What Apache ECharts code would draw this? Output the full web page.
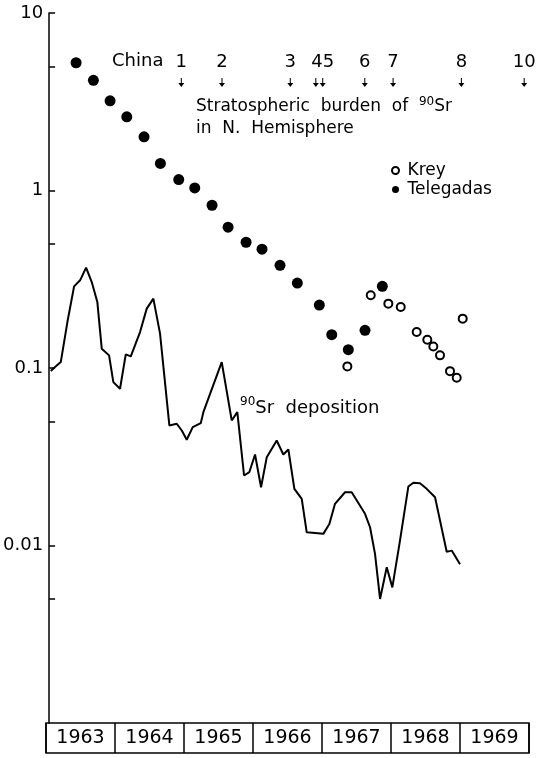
<!DOCTYPE html>
<html><head><meta charset="utf-8">
<script src="https://cdn.jsdelivr.net/npm/echarts@6/dist/echarts.min.js"></script>
<style>html,body{margin:0;padding:0;background:#fff}#c{width:536px;height:758px}</style>
</head><body><div id="c"></div>
<script>
// ---- data ----
const years = ['1963','1964','1965','1966','1967','1968','1969'];
const yTickValues = [10, 5, 1, 0.5, 0.1, 0.05, 0.01, 0.005];
const yLabelValues = [10, 1, 0.1, 0.01];

const depositionTime = [1963.068,1963.130,1963.213,1963.309,1963.406,1963.493,1963.580,1963.662,1963.743,1963.807,
  1963.913,1963.975,1964.072,1964.155,1964.228,1964.362,1964.459,1964.555,1964.652,1964.787,
  1964.894,1964.967,1965.039,1965.126,1965.242,1965.280,1965.546,1965.691,1965.772,1965.870,
  1965.946,1966.029,1966.116,1966.199,1966.343,1966.439,1966.512,1966.599,1966.706,1966.778,
  1967.019,1967.106,1967.188,1967.333,1967.430,1967.623,1967.696,1967.768,1967.841,1967.938,
  1968.019,1968.130,1968.251,1968.323,1968.420,1968.517,1968.638,1968.807,1968.880,1969.000];
const depositionValue = [0.0961,0.1012,0.108,0.1815,0.2884,0.3119,0.3679,0.3051,0.2352,0.1285,
  0.1178,0.0833,0.0764,0.1193,0.1162,0.1594,0.216,0.246,0.1561,0.04746,
  0.04851,0.04446,0.03941,0.04642,0.04889,0.0564,0.108,0.05064,0.0564,0.02479,
  0.02588,0.03257,0.0213,0.03145,0.03906,0.03257,0.03475,0.02085,0.01832,0.01187,
  0.01163,0.01323,0.01717,0.01995,0.01995,0.01508,0.01267,0.008966,0.004998,0.007534,
  0.005809,0.01066,0.02149,0.02255,0.02245,0.02085,0.01871,0.009226,0.009359,0.007834];

const telegadasTime = [1963.435,1963.686,1963.928,1964.170,1964.420,1964.657,1964.923,1965.155,1965.406,1965.638,
  1965.899,1966.130,1966.391,1966.642,1966.961,1967.141,1967.381,1967.623,1967.874];
const telegadasValue = [5.245,4.173,3.202,2.601,2.005,1.42,1.153,1.034,0.826,0.621,
  0.511,0.467,0.379,0.301,0.2263,0.154,0.1268,0.163,0.2884];

const kreyTime = [1967.367,1967.706,1967.961,1968.141,1968.372,1968.526,1968.613,1968.710,1968.855,1968.952,1969.039];
const kreyValue = [0.1021,0.2567,0.2305,0.2205,0.1594,0.1444,0.1323,0.1178,0.096,0.0882,0.1897];

const chinaTestTime = [1964.96,1965.55,1966.54,1966.91,1967.01,1967.62,1968.03,1969.02,1969.93];
const chinaTestLabel = ['1','2','3','','45','6','7','8','10'];
const chinaMarkerLevel = 4.06;

// ---- chart ----
const FONT = 'DejaVu Sans';
const zip = (a, b) => a.map((v, i) => [v, b[i]]);
const chart = echarts.init(document.getElementById('c'), null, {renderer: 'canvas'});
const arrowPath = 'path://M3.4,0 H4.6 V6 H7.5 L4,11 L0.5,6 H3.4 Z';

chart.setOption({
  animation: false,
  backgroundColor: '#fff',
  textStyle: {fontFamily: FONT, color: '#000'},
  grid: [
    {left: 46, right: 7, top: 13, bottom: 35},
    {left: 46, right: 7, top: 723, height: 30, show: true, borderColor: '#000', borderWidth: 1.5, backgroundColor: 'transparent'}
  ],
  xAxis: [
    {type: 'value', gridIndex: 0, min: 1963, max: 1970, show: false},
    {type: 'category', gridIndex: 1, data: years, boundaryGap: true,
     axisLine: {show: false}, axisTick: {show: false},
     splitLine: {show: true, lineStyle: {color: '#000', width: 1.5}},
     axisLabel: {inside: true, margin: 15, verticalAlign: 'middle', fontSize: 19, color: '#000', fontFamily: FONT}}
  ],
  yAxis: [
    {type: 'log', logBase: 10, gridIndex: 0, min: 0.001, max: 10, offset: -3,
     axisLine: {show: true, lineStyle: {color: '#000', width: 1.5}},
     axisTick: {show: true, inside: true, length: 6, customValues: yTickValues, lineStyle: {color: '#000', width: 1.5}},
     axisLabel: {customValues: yLabelValues, margin: 6, fontSize: 18, color: '#000', fontFamily: FONT,
       formatter: v => String(Number(Number(v).toPrecision(3)))},
     splitLine: {show: false}, minorTick: {show: false}},
    {type: 'value', gridIndex: 1, show: false}
  ],
  legend: {
    orient: 'vertical', left: 391, top: 162, itemWidth: 14, itemHeight: 7, itemGap: 2, padding: 0,
    textStyle: {fontSize: 17, color: '#000', fontFamily: FONT},
    data: ['Krey', 'Telegadas']
  },
  graphic: [
    {type: 'text', left: 112, top: 52, style: {text: 'China', font: '18px "DejaVu Sans"', fill: '#000'}},
    {type: 'text', left: 196, top: 96, style: {
      text: 'Stratospheric  burden  of  {sup|90}Sr\nin  N.  Hemisphere',
      fill: '#000', fontFamily: FONT, fontSize: 17, lineHeight: 22,
      rich: {sup: {fontSize: 12, verticalAlign: 'top', lineHeight: 22, fontFamily: FONT, fill: '#000'}}
    }},
    {type: 'text', left: 240, top: 396, style: {
      text: '{sup|90}Sr  deposition', fill: '#000', fontFamily: FONT, fontSize: 18, lineHeight: 24,
      rich: {sup: {fontSize: 12, verticalAlign: 'top', lineHeight: 24, fontFamily: FONT, fill: '#000'}}
    }}
  ],
  series: [
    {name: '90Sr deposition', type: 'line', xAxisIndex: 0, yAxisIndex: 0, data: zip(depositionTime, depositionValue),
     symbol: 'none', lineStyle: {color: '#000', width: 2}, z: 2},
    {name: 'Telegadas', type: 'scatter', xAxisIndex: 0, yAxisIndex: 0, data: zip(telegadasTime, telegadasValue),
     symbol: 'circle', symbolSize: 11, itemStyle: {color: '#000', opacity: 1}, z: 3},
    {name: 'Krey', type: 'scatter', xAxisIndex: 0, yAxisIndex: 0, data: zip(kreyTime, kreyValue),
     symbol: 'circle', symbolSize: 8, itemStyle: {color: '#fff', borderColor: '#000', borderWidth: 2, opacity: 1}, z: 3},
    {name: 'China tests', type: 'scatter', xAxisIndex: 0, yAxisIndex: 0,
     data: chinaTestTime.map((t, i) => ({value: [t, chinaMarkerLevel], label: {formatter: chinaTestLabel[i]}})),
     symbol: arrowPath, symbolSize: [6, 9], itemStyle: {color: '#000', opacity: 1},
     label: {show: true, position: 'top', distance: 7, fontSize: 18, color: '#000', opacity: 1, fontFamily: FONT}, z: 4}
  ]
});
</script></body></html>
